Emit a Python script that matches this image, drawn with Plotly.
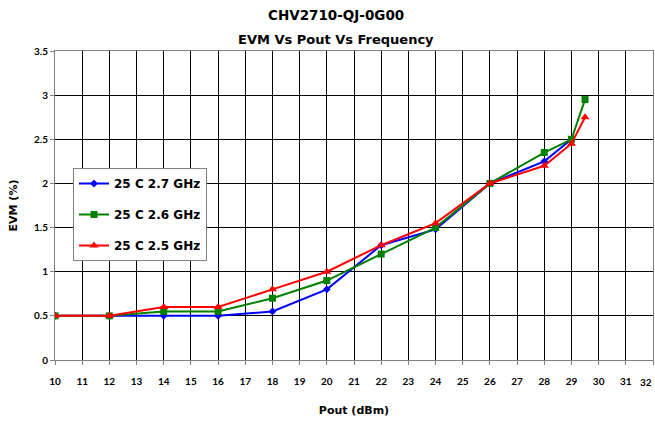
import plotly.graph_objects as go

x_27 = [10, 12, 14, 16, 18, 20, 22, 24, 26, 28, 29]
evm_27 = [0.5, 0.5, 0.5, 0.5, 0.55, 0.8, 1.3, 1.48, 2.0, 2.25, 2.5]
x_26 = [10, 12, 14, 16, 18, 20, 22, 24, 26, 28, 29, 29.5]
evm_26 = [0.5, 0.5, 0.55, 0.55, 0.7, 0.9, 1.2, 1.5, 2.0, 2.35, 2.5, 2.95]
x_25 = [10, 12, 14, 16, 18, 20, 22, 24, 26, 28, 29, 29.5]
evm_25 = [0.5, 0.5, 0.6, 0.6, 0.8, 1.0, 1.3, 1.55, 2.0, 2.2, 2.45, 2.75]

x_ticks = list(range(10, 33))
x_tick_labels = [str(v) for v in x_ticks]

names = ["25 C 2.7 GHz", "25 C 2.6 GHz", "25 C 2.5 GHz"]
colors = ["#0000FF", "#008000", "#FF0000"]
symbols = ["diamond", "square", "triangle-up"]
msizes = [6, 7, 8]

FONT = "Lato, 'Open Sans', sans-serif"
DJ = "'DejaVu Sans', sans-serif"

fig = go.Figure()
for i, (xs, ys) in enumerate([(x_27, evm_27), (x_26, evm_26), (x_25, evm_25)]):
    fig.add_trace(go.Scatter(
        x=xs, y=ys, name=names[i], mode="lines+markers",
        line=dict(color=colors[i], width=2),
        marker=dict(symbol=symbols[i], size=msizes[i], color=colors[i]),
        legendgroup=f"g{i}",
    ))

def bold(family, size):
    return dict(family=family, size=size, weight="bold", color="black")

W, H = 655, 421
L, T, R, B = 55, 51, 2, 61
pw, ph = W - L - R, H - T - B

# last tick label is drawn shifted left so it stays inside the page (as in the reference)
shown_labels = x_tick_labels[:-1] + [""]

title_x = (336 - L) / pw

fig.update_layout(
    width=W, height=H,
    margin=dict(l=L, r=R, t=T, b=B, autoexpand=False),
    paper_bgcolor="white", plot_bgcolor="white",
    font=dict(family=FONT, color="black", weight="bold"),
    showlegend=True,
    legend=dict(
        x=(73 - L) / pw, y=1 - (168 - T) / ph, xanchor="left", yanchor="top",
        bgcolor="white", bordercolor="#808080", borderwidth=1,
        font=bold(DJ, 12),
        tracegroupgap=12,
        itemwidth=30,
    ),
    xaxis=dict(
        range=[10, 32], tickmode="array", tickvals=x_ticks, ticktext=shown_labels,
        showgrid=True, gridcolor="black", gridwidth=1,
        showline=True, linecolor="#808080", linewidth=1, mirror=True,
        ticks="outside", ticklen=4, tickcolor="#808080",
        tickfont=bold(FONT, 10), ticklabelstandoff=8,
        title=dict(text="Pout (dBm)", font=bold(DJ, 11), standoff=20),
        zeroline=False, automargin=False,
    ),
    yaxis=dict(
        range=[0, 3.5], tickmode="linear", tick0=0, dtick=0.5,
        showgrid=True, gridcolor="black", gridwidth=1,
        showline=True, linecolor="#808080", linewidth=1, mirror=True,
        ticks="outside", ticklen=4, tickcolor="#808080",
        tickfont=bold(FONT, 10),
        title=dict(text="EVM (%)", font=bold(DJ, 11), standoff=14),
        zeroline=False, automargin=False,
    ),
    annotations=[
        dict(text="CHV2710-QJ-0G00", xref="paper", yref="paper",
             x=title_x, y=1 + (T - 15) / ph, xanchor="center", yanchor="middle",
             showarrow=False, borderpad=0, font=bold(DJ, 13.5)),
        dict(text="EVM Vs Pout Vs Frequency", xref="paper", yref="paper",
             x=title_x, y=1 + (T - 39) / ph, xanchor="center", yanchor="middle",
             showarrow=False, font=bold(DJ, 13)),
        dict(text=x_tick_labels[-1], xref="paper", yref="paper",
             x=1, y=-(382 - 360) / ph, xanchor="right", yanchor="middle",
             showarrow=False, borderpad=0, font=bold(FONT, 10)),
    ],
)

fig.write_html(
    "out.html",
    config={"displayModeBar": False},
    post_script="document.body.style.margin='0';document.body.style.overflow='hidden';",
)
